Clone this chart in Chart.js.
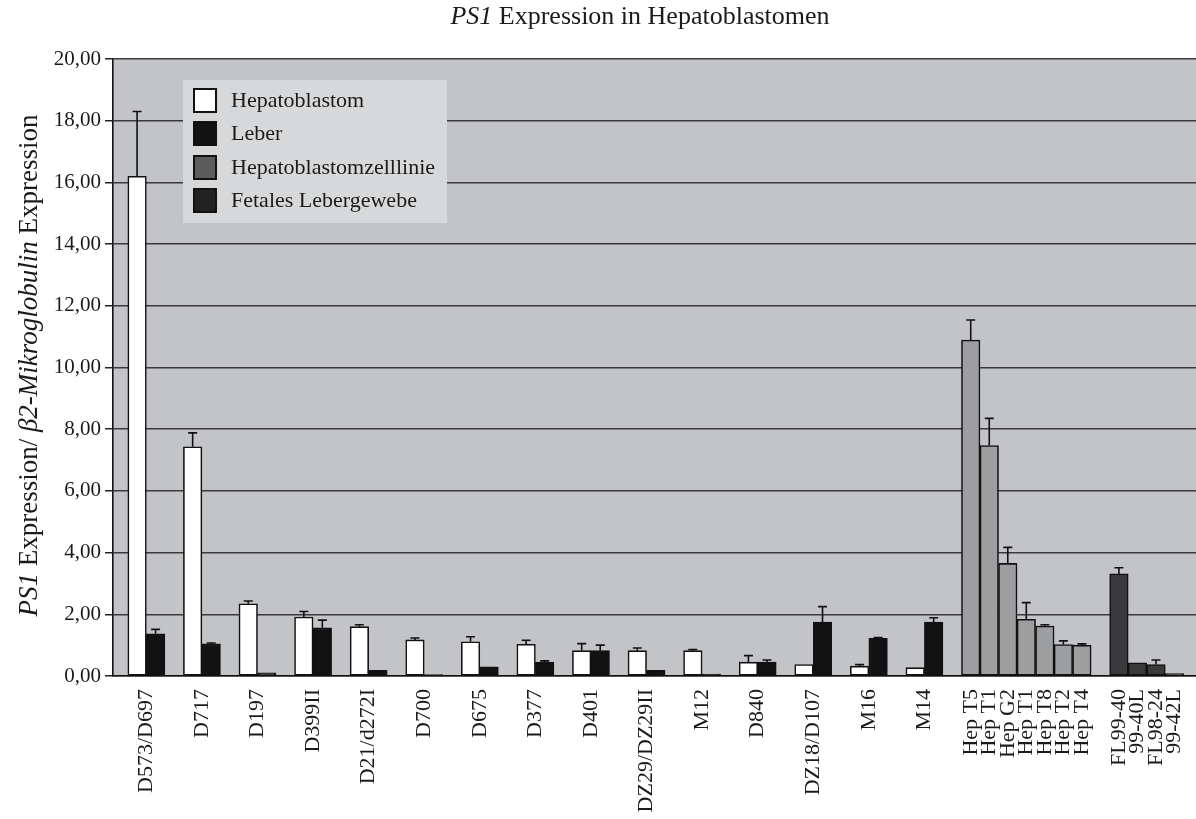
<!DOCTYPE html>
<html>
<head>
<meta charset="utf-8">
<script src="https://cdn.jsdelivr.net/npm/chart.js@4.4.1/dist/chart.umd.min.js"></script>
<style>
  html, body { margin: 0; padding: 0; background: #ffffff; }
  #wrap { width: 1196px; height: 819px; position: relative; }
</style>
</head>
<body>
<div id="wrap"><canvas id="chart" width="1196" height="819"></canvas></div>
<script>
// Tumour / liver pairs (white = Hepatoblastom, black = Leber)
const pairLabels = ['D573/D697', 'D717', 'D197', 'D399II', 'D21/d272I', 'D700', 'D675', 'D377',
                    'D401', 'DZ29/DZ29II', 'M12', 'D840', 'DZ18/D107', 'M16', 'M14'];
const tumorValues = [16.20, 7.43, 2.34, 1.91, 1.60, 1.17, 1.11, 1.03, 0.82, 0.82, 0.82, 0.45, 0.37, 0.32, 0.27];
const tumorErrors = [2.10, 0.45, 0.09, 0.18, 0.06, 0.06, 0.16, 0.13, 0.23, 0.09, 0.04, 0.21, 0.00, 0.05, 0.00];
const liverValues = [1.37, 1.04, 0.10, 1.56, 0.18, 0.05, 0.30, 0.45, 0.82, 0.18, 0.06, 0.45, 1.75, 1.22, 1.75];
const liverErrors = [0.14, 0.03, 0.00, 0.25, 0.00, 0.00, 0.00, 0.04, 0.18, 0.00, 0.00, 0.07, 0.50, 0.03, 0.14];

// Cell lines
const cellLabels = ['Hep T5', 'Hep T1', 'Hep G2', 'Hep T1', 'Hep T8', 'Hep T2', 'Hep T4'];
const cellValues = [10.89, 7.47, 3.65, 1.84, 1.62, 1.02, 1.00];
const cellErrors = [0.65, 0.88, 0.52, 0.54, 0.04, 0.12, 0.04];

// Fetal liver tissue
const fetalLabels = ['FL99-40', '99-40L', 'FL98-24', '99-42L'];
const fetalValues = [3.31, 0.43, 0.37, 0.08];
const fetalErrors = [0.20, 0.00, 0.15, 0.00];

// Y axis ticks
const yTicks = [0, 2, 4, 6, 8, 10, 12, 14, 16, 18, 20];

// Slot layout along the x axis: each pair takes 3 slots (tumour, liver, gap),
// then the cell lines, one gap slot, then the fetal samples.
const cellStart = pairLabels.length * 3;
const fetalStart = cellStart + cellLabels.length + 1;

const tumorData = tumorValues.map((v, i) => ({ x: i * 3, y: v }));
const liverData = liverValues.map((v, i) => ({ x: i * 3 + 1, y: v }));
const cellData = cellValues.map((v, i) => ({ x: cellStart + i, y: v }));
const fetalData = fetalValues.map((v, i) => ({ x: fetalStart + i, y: v }));

const tickLabelMap = new Map();
pairLabels.forEach((l, i) => tickLabelMap.set(i * 3 + 0.5, l));
cellLabels.forEach((l, i) => tickLabelMap.set(cellStart + i, l));
fetalLabels.forEach((l, i) => tickLabelMap.set(fetalStart + i, l));

const errorSets = [tumorErrors, liverErrors, cellErrors, fetalErrors];

const SERIF = '"Liberation Serif", "DejaVu Serif", serif';

// Background of the plot area
const plotBackground = {
  id: 'plotBackground',
  beforeDraw(chart) {
    const { ctx, chartArea: a } = chart;
    ctx.save();
    ctx.fillStyle = '#c3c4c7';
    ctx.fillRect(a.left, a.top, a.right - a.left, a.bottom - a.top);
    ctx.restore();
  }
};

// Upward error bars with a cap
const errorBars = {
  id: 'errorBars',
  afterDatasetsDraw(chart) {
    const { ctx } = chart;
    const y = chart.scales.y;
    ctx.save();
    ctx.strokeStyle = '#111';
    ctx.lineWidth = 1.6;
    chart.data.datasets.forEach((ds, di) => {
      const errs = errorSets[di];
      const meta = chart.getDatasetMeta(di);
      meta.data.forEach((bar, i) => {
        const e = errs[i];
        if (!e) return;
        const v = ds.data[i].y;
        const x = bar.x;
        const y0 = y.getPixelForValue(v);
        const y1 = y.getPixelForValue(v + e);
        ctx.beginPath();
        ctx.moveTo(x, y0);
        ctx.lineTo(x, y1);
        ctx.moveTo(x - 4.5, y1);
        ctx.lineTo(x + 4.5, y1);
        ctx.stroke();
      });
    });
    ctx.restore();
  }
};

// Draws a run of text segments with mixed italic/regular styles
function drawSegments(ctx, segs, size) {
  let total = 0;
  segs.forEach(s => {
    ctx.font = (s.italic ? 'italic ' : '') + size + 'px ' + SERIF;
    s.w = ctx.measureText(s.t).width;
    total += s.w;
  });
  let x = -total / 2;
  segs.forEach(s => {
    ctx.font = (s.italic ? 'italic ' : '') + size + 'px ' + SERIF;
    ctx.fillText(s.t, x, 0);
    x += s.w;
  });
}

// Title, y-axis title and the legend box
const annotations = {
  id: 'annotations',
  afterDraw(chart) {
    const { ctx, chartArea: a } = chart;
    ctx.save();
    ctx.fillStyle = '#1a1a1a';
    ctx.textBaseline = 'middle';
    ctx.textAlign = 'left';

    // chart title
    ctx.save();
    ctx.translate(640, 17);
    drawSegments(ctx, [{ t: 'PS1', italic: true }, { t: ' Expression in Hepatoblastomen' }], 26);
    ctx.restore();

    // y-axis title
    ctx.save();
    ctx.translate(30, (a.top + a.bottom) / 2 - 2);
    ctx.rotate(-Math.PI / 2);
    drawSegments(ctx, [
      { t: 'PS1', italic: true }, { t: ' Expression/ ' },
      { t: 'β2-Mikroglobulin', italic: true }, { t: ' Expression' }
    ], 27);
    ctx.restore();

    // legend
    const lx = 183, ly = 80, lw = 264, lh = 143;
    ctx.fillStyle = '#d7d8da';
    ctx.fillRect(lx, ly, lw, lh);
    const rowTop = [89, 122, 156, 189];
    chart.data.datasets.forEach((ds, i) => {
      const sy = rowTop[i];
      ctx.fillStyle = ds.legendColor;
      ctx.fillRect(194, sy, 22, 23);
      ctx.lineWidth = 2;
      ctx.strokeStyle = '#111';
      ctx.strokeRect(194, sy, 22, 23);
      ctx.fillStyle = '#1a1a1a';
      ctx.font = '22px ' + SERIF;
      ctx.textAlign = 'left';
      ctx.fillText(ds.label, 231, sy + 12);
    });
    ctx.restore();
  }
};

const barCommon = {
  borderColor: '#111',
  borderWidth: 1.6,
  borderSkipped: false,
  grouped: false,
  categoryPercentage: 1,
  barPercentage: 1
};

new Chart(document.getElementById('chart'), {
  type: 'bar',
  data: {
    datasets: [
      Object.assign({ label: 'Hepatoblastom', data: tumorData, backgroundColor: '#ffffff', legendColor: '#ffffff' }, barCommon),
      Object.assign({ label: 'Leber', data: liverData, backgroundColor: '#121212', legendColor: '#121212' }, barCommon),
      Object.assign({ label: 'Hepatoblastomzelllinie', data: cellData, backgroundColor: '#9d9ea0', legendColor: '#5c5c5e' }, barCommon),
      Object.assign({ label: 'Fetales Lebergewebe', data: fetalData, backgroundColor: '#3a3a3c', legendColor: '#222224' }, barCommon)
    ]
  },
  options: {
    responsive: false,
    animation: false,
    events: [],
    layout: { padding: { top: 59, right: 0, left: 0, bottom: 0 } },
    plugins: {
      legend: { display: false },
      title: { display: false },
      tooltip: { enabled: false }
    },
    scales: {
      x: {
        type: 'linear',
        offset: false,
        min: -1.30,
        max: 57.16,
        afterFit(scale) {
          scale.height = 819 - 676;
          scale.paddingLeft = 0;
          scale.paddingRight = 0;
        },
        afterBuildTicks(scale) {
          scale.ticks = Array.from(tickLabelMap.keys()).map(v => ({ value: v }));
        },
        grid: { display: false, drawTicks: false },
        border: { display: true, color: '#111', width: 1.6 },
        ticks: {
          autoSkip: false,
          minRotation: 90,
          maxRotation: 90,
          padding: 13,
          color: '#1a1a1a',
          font: { family: SERIF, size: 22 },
          callback: v => tickLabelMap.get(v) || ''
        }
      },
      y: {
        min: 0,
        max: 20,
        afterFit(scale) { scale.width = 113; },
        afterBuildTicks(scale) {
          scale.ticks = yTicks.map(v => ({ value: v }));
        },
        grid: {
          color: '#3a3a3c',
          lineWidth: 1.5,
          tickLength: 8,
          tickColor: '#222'
        },
        border: { display: true, color: '#111', width: 1.6 },
        ticks: {
          padding: 4,
          color: '#1a1a1a',
          font: { family: SERIF, size: 21 },
          callback: v => v.toFixed(2).replace('.', ',')
        }
      }
    }
  },
  plugins: [plotBackground, errorBars, annotations]
});
</script>
</body>
</html>
